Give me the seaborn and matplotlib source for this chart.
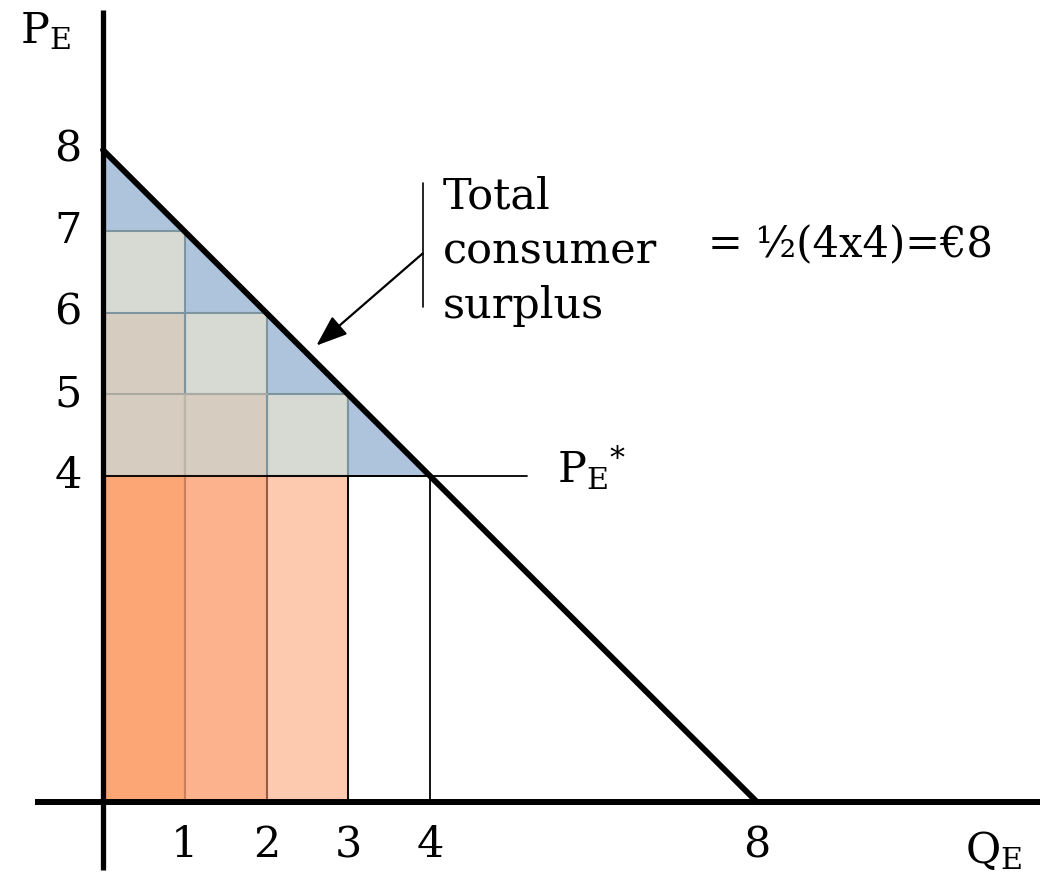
import matplotlib
matplotlib.use("Agg")
import matplotlib.pyplot as plt
import seaborn as sns

# demand schedule: each unit bought and what the buyer would pay for it
quantity = [1, 2, 3, 4]
willingness = [7, 6, 5, 4]
price = 4
demand_q = [0, 8]
demand_p = [8, 0]

x_ticks = [1, 2, 3, 4, 8]
y_ticks = [4, 5, 6, 7, 8]

orange = ['#fda675', '#fdb28e', '#fecaaf']
orange_edges = ['#c98058', '#c98058', '#8f5e45']
cell_grey = '#d6dad3'
cell_beige = '#d6cdc0'
cs_blue = '#adc4dc'
cell_edge = '#7d959f'

sns.set_style("white")
plt.rcParams['font.family'] = ['DejaVu Serif']
plt.rcParams['mathtext.fontset'] = 'dejavuserif'
plt.rcParams['text.color'] = 'black'

fig = plt.figure(figsize=(10.46, 8.73), dpi=100)
ax = fig.add_axes([0, 0, 1, 1])
ax.set_xlim(-1.26, 11.535)
ax.set_ylim(-0.871, 9.84)
ax.axis('off')

# consumer surplus triangle (blue): demand curve above the price
cs_q = [0, quantity[-1]]
cs_p = [demand_p[0], price]
ax.fill_between(cs_q, cs_p, price, color=cs_blue, lw=0, zorder=1)

# step cells above the price
bar_x = [q - 0.5 for q in quantity[:3]]
grey_tops = [w - price for w in willingness[:3]]
ax.bar(bar_x, grey_tops, width=1, bottom=price, color=cell_grey,
       edgecolor=cell_edge, linewidth=1.5, zorder=2)
beige_tops = [w - 1 - price for w in willingness[:2]]
ax.bar(bar_x[:2], beige_tops, width=1, bottom=price, color=cell_beige,
       edgecolor=cell_edge, linewidth=1.5, zorder=3)
# faint lines between beige cells
ax.plot([1, 1], [price, price + 1], color='#bdb5a8', lw=1.5, zorder=4)
ax.plot([0, 2], [price + 1, price + 1], color='#a9aaa4', lw=1.5, zorder=4)
ax.plot([3, 3], [price, price + 1], color=cell_edge, lw=1.5, zorder=4)

# expenditure bars up to the price
for i in range(3):
    ax.bar(bar_x[i], price, width=1, color=orange[i],
           edgecolor=orange_edges[i], linewidth=1.5, zorder=5)
ax.bar(quantity[3] - 0.5, price, width=1, fill=False,
       edgecolor='black', linewidth=1.3, zorder=6)

# price line
ax.plot([0, 5.19], [price, price], color='black', lw=1.3, zorder=7)

# demand curve
sns.lineplot(x=demand_q, y=demand_p, color='black', lw=4.2, ax=ax, zorder=8)

# axes
ax.plot([0, 0], [-0.83, 9.72], color='black', lw=3.8, zorder=9,
        solid_capstyle='butt')
ax.plot([-0.83, 11.46], [0, 0], color='black', lw=4.3, zorder=9,
        solid_capstyle='butt')

# tick labels
for t in x_ticks:
    ax.text(t, -0.53, str(t), ha='center', va='center', fontsize=31)
for t in y_ticks:
    ax.text(-0.43, t, str(t), ha='center', va='center', fontsize=31)

ax.text(-1.02, 9.45, r'$\mathrm{P}_{\mathrm{E}}$', fontsize=31,
        ha='left', va='center')
ax.text(10.54, -0.6, r'$\mathrm{Q}_{\mathrm{E}}$', fontsize=31,
        ha='left', va='center')
ax.text(5.55, 4.1, r'$\mathrm{P}_{\mathrm{E}}{}^{*}$', fontsize=31,
        ha='left', va='center')

# annotation
ax.plot([3.91, 3.91], [6.07, 7.6], color='black', lw=1.2)
ax.annotate('', xy=(2.61, 5.6), xytext=(3.91, 6.73),
            arrowprops=dict(arrowstyle='-|>,head_length=0.8,head_width=0.3',
                            color='black', lw=1.6, mutation_scale=24,
                            shrinkA=0, shrinkB=0))
ax.text(4.16, 6.76, 'Total\nconsumer\nsurplus', fontsize=31,
        ha='left', va='center', linespacing=1.38)
ax.text(7.4, 6.83, '= ½(4x4)=€8', fontsize=30, ha='left', va='center')

fig.savefig('out.png', dpi=100)
